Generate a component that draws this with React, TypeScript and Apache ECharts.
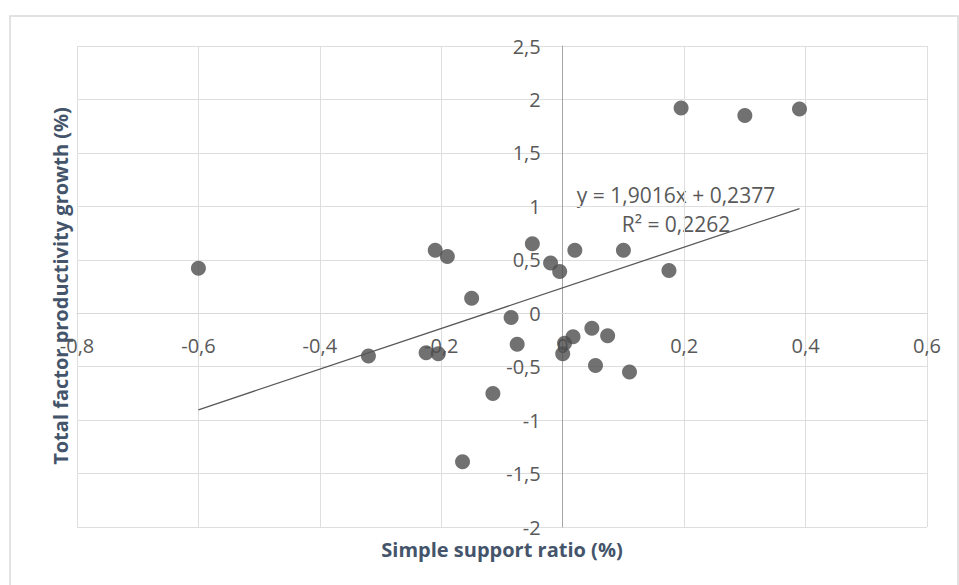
import React, { useEffect, useRef } from "react";
import * as echarts from "echarts";

const supportRatio = [-0.60, -0.21, -0.19, -0.15, -0.32, -0.225, -0.205, -0.165, -0.085, -0.075, -0.115, -0.05, -0.02, -0.005, 0.02, 0.10, 0.175, 0.195, 0.30, 0.39, 0.0, 0.003, 0.017, 0.048, 0.074, 0.054, 0.11];
const tfpGrowth = [0.42, 0.59, 0.53, 0.14, -0.40, -0.37, -0.38, -1.39, -0.04, -0.29, -0.75, 0.65, 0.47, 0.39, 0.59, 0.59, 0.40, 1.92, 1.85, 1.91, -0.38, -0.28, -0.22, -0.14, -0.21, -0.49, -0.55];

const trendSlope = 1.9016;
const trendIntercept = 0.2377;
const rSquared = 0.2262;

const xTitle = "Simple support ratio (%)";
const yTitle = "Total factor productivity growth (%)";

const FONT = "'Open Sans', sans-serif";
const fmt = (v: number, d: number) => v.toFixed(d).replace(".", ",");
const tick = (v: number) => String(+v.toFixed(2)).replace(".", ",");

const GRID = { left: 77, right: 32, top: 46, bottom: 58 };

export default function App() {
  const ref = useRef<HTMLDivElement>(null);
  useEffect(() => {
    if (!ref.current) return;
    const chart = echarts.init(ref.current, undefined, { renderer: "svg" });
    const pts = supportRatio.map((x, i) => [x, tfpGrowth[i]]);
    const xMin = Math.min(...supportRatio);
    const xMax = Math.max(...supportRatio);
    const trend = [
      [xMin, trendSlope * xMin + trendIntercept],
      [xMax, trendSlope * xMax + trendIntercept],
    ];
    chart.setOption({
      animation: false,
      backgroundColor: "#ffffff",
      grid: { ...GRID, containLabel: false },
      xAxis: {
        type: "value",
        min: -0.8,
        max: 0.6,
        interval: 0.2,
        axisLine: { show: true, onZero: false, lineStyle: { color: "#d9d9d9", width: 1 } },
        axisTick: { show: false },
        axisLabel: { formatter: tick, color: "#595959", fontFamily: FONT, fontSize: 20, margin: 22 },
        splitLine: { show: true, lineStyle: { color: "#dedede", width: 1 } },
        z: 1,
      },
      yAxis: {
        type: "value",
        min: -2,
        max: 2.5,
        interval: 0.5,
        axisLine: { show: true, onZero: false, lineStyle: { color: "#a6a6a6", width: 1 } },
        axisTick: { show: false },
        axisLabel: { formatter: tick, color: "#595959", fontFamily: FONT, fontSize: 20, margin: 22 },
        splitLine: { show: true, lineStyle: { color: "#dedede", width: 1 } },
        z: 1,
      },
      series: [
        {
          type: "scatter",
          data: pts,
          symbolSize: 15,
          itemStyle: { color: "#4d4d4d" },
          z: 3,
        },
        {
          type: "line",
          data: trend,
          symbol: "none",
          lineStyle: { color: "#595959", width: 1.3 },
          z: 4,
        },
      ],
      graphic: [
        {
          type: "rect",
          shape: { x: 10, y: 16, width: 948, height: 580 },
          style: { fill: "none", stroke: "#d9d9d9", lineWidth: 1.5 },
          silent: true,
          z: -1,
        },
        {
          type: "text",
          x: 502,
          y: 549,
          style: {
            text: xTitle,
            fontFamily: FONT,
            fontSize: 20,
            fontWeight: "bold",
            fill: "#44546a",
            textAlign: "center",
            textVerticalAlign: "middle",
          },
        },
        {
          type: "text",
          x: 60,
          y: 286,
          rotation: Math.PI / 2,
          style: {
            text: yTitle,
            fontFamily: FONT,
            fontSize: 20,
            fontWeight: "bold",
            fill: "#44546a",
            textAlign: "center",
            textVerticalAlign: "middle",
          },
        },
        {
          type: "text",
          x: 676,
          y: 195,
          style: {
            text: "y = " + fmt(trendSlope, 4) + "x + " + fmt(trendIntercept, 4),
            fontFamily: FONT,
            fontSize: 21,
            fill: "#595959",
            textAlign: "center",
            textVerticalAlign: "middle",
          },
        },
        {
          type: "text",
          x: 676,
          y: 224,
          style: {
            text: "R² = " + fmt(rSquared, 4),
            fontFamily: FONT,
            fontSize: 21,
            fill: "#595959",
            textAlign: "center",
            textVerticalAlign: "middle",
          },
        },
      ],
    });
    // Place both axes (line + labels) on the other axis' zero, like the source chart.
    const origin = chart.convertToPixel({ gridIndex: 0 }, [0, 0]) as number[];
    const h = chart.getHeight();
    chart.setOption({
      xAxis: { offset: origin[1] - (h - GRID.bottom) },
      yAxis: { offset: GRID.left - origin[0] },
    });
    return () => chart.dispose();
  }, []);
  return (
    <div
      ref={ref}
      style={{ position: "fixed", left: 0, top: 0, width: 959, height: 585 }}
    />
  );
}
